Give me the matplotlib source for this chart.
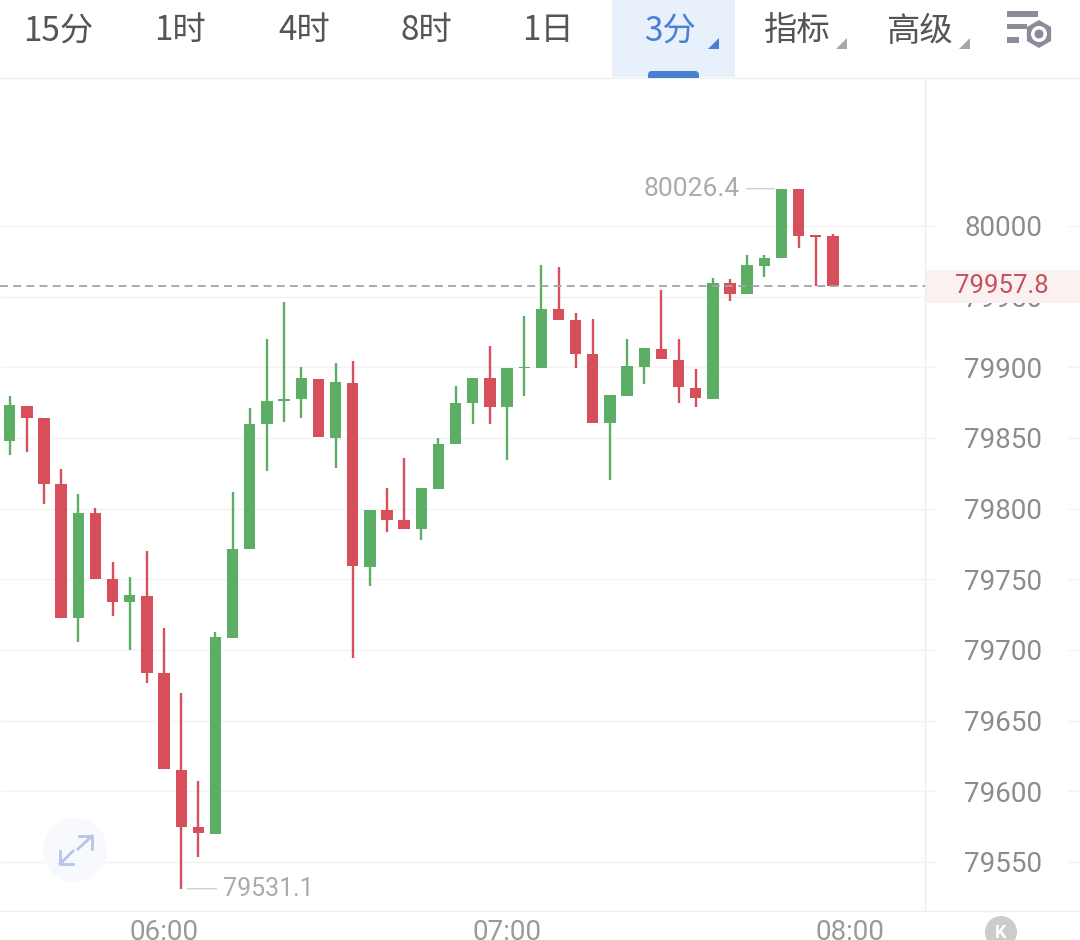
import matplotlib
matplotlib.use('Agg')
import matplotlib.pyplot as plt
from matplotlib.patches import Rectangle, Circle, RegularPolygon, Polygon, FancyBboxPatch

plt.rcParams['font.family'] = ['Roboto', 'Noto Sans CJK SC', 'DejaVu Sans']

# 3 minute candles, first one at 05:33
opens = [79848.1, 79872.9, 79864.2, 79817.3, 79722.4, 79796.9, 79750.0, 79734.0, 79738.2, 79683.5,
         79615.1, 79574.8, 79570.0, 79708.7, 79771.5, 79859.7, 79876.0, 79877.6, 79892.0, 79850.2,
         79889.1, 79758.7, 79798.8, 79791.8, 79785.4, 79813.9, 79845.8, 79874.6, 79892.5, 79871.9,
         79899.3, 79899.5, 79941.3, 79933.3, 79909.4, 79860.6, 79879.7, 79900.4, 79913.2, 79905.2,
         79885.6, 79877.6, 79959.5, 79951.7, 79971.9, 79977.1, 80026.2, 79993.6, 79992.7]
highs = [79879.7, 79872.9, 79864.2, 79827.9, 79810.2, 79800.5, 79762.3, 79751.7, 79769.8, 79715.4,
         79669.8, 79607.3, 79712.7, 79812.0, 79871.0, 79919.8, 79946.0, 79900.0, 79892.0, 79902.9,
         79904.5, 79799.1, 79814.4, 79835.8, 79814.4, 79849.8, 79886.8, 79892.7, 79915.3, 79899.7,
         79936.3, 79972.2, 79971.0, 79938.7, 79934.0, 79880.2, 79919.8, 79913.7, 79954.9, 79919.8,
         79898.8, 79963.4, 79962.3, 79979.7, 79979.5, 80026.4, 80026.2, 79993.6, 79994.3]
lows = [79838.2, 79840.3, 79803.3, 79722.6, 79705.4, 79750.0, 79724.1, 79700.0, 79676.4, 79615.6,
        79531.1, 79553.8, 79570.0, 79708.7, 79771.5, 79826.4, 79861.3, 79864.0, 79850.5, 79828.8,
        79694.6, 79745.3, 79783.7, 79785.6, 79778.0, 79813.9, 79845.8, 79859.7, 79859.9, 79834.6,
        79879.7, 79899.5, 79933.5, 79899.7, 79860.8, 79820.1, 79879.7, 79888.2, 79905.7, 79875.0,
        79871.9, 79877.6, 79947.1, 79951.7, 79964.1, 79977.1, 79984.6, 79957.5, 79957.8]
closes = [79873.1, 79864.2, 79817.5, 79722.6, 79797.1, 79750.0, 79734.2, 79738.7, 79684.0, 79615.6,
          79575.0, 79570.3, 79709.0, 79771.7, 79859.9, 79876.4, 79877.8, 79892.5, 79850.5, 79889.4,
          79759.4, 79799.1, 79792.0, 79785.6, 79814.4, 79845.8, 79874.8, 79892.7, 79872.1, 79899.3,
          79900.2, 79941.5, 79933.5, 79909.6, 79860.8, 79880.2, 79900.7, 79913.7, 79905.7, 79886.1,
          79878.1, 79959.9, 79951.9, 79972.6, 79977.6, 80026.4, 79993.1, 79992.4, 79957.8]

y_ticks = [79550, 79600, 79650, 79700, 79750, 79800, 79850, 79900, 79950, 80000]
time_pos = [9, 29, 49]
time_labels = ['06:00', '07:00', '08:00']
toolbar = ['15分', '1时', '4时', '8时', '1日', '3分', '指标', '高级']
last_price = 79957.8

GREEN = '#5BAE64'
RED = '#D64F5A'
GRID = '#F3F3F3'
W, H = 1080, 940
X0, STEP = 9.7, 17.15

fig = plt.figure(figsize=(W / 100, H / 100), dpi=100, facecolor='white')
ax = fig.add_axes([0, 29 / H, 1, (911 - 78) / H])
ax.set_xlim((0 - X0) / STEP, (W - X0) / STEP)
ax.set_ylim(79515.3, 80104.7)

idx = list(range(len(opens)))
colors = [GREEN if c >= o else RED for o, c in zip(opens, closes)]
ax.vlines(idx, lows, highs, colors=colors, lw=1.7, zorder=3)
ax.bar(idx, [abs(c - o) for o, c in zip(opens, closes)], bottom=[min(o, c) for o, c in zip(opens, closes)],
       width=0.66, color=colors, zorder=3, linewidth=0)

ax.yaxis.tick_right()
ax.set_yticks(y_ticks)
ax.set_yticklabels([str(v) for v in y_ticks])
ax.set_xticks(time_pos)
ax.set_xticklabels(time_labels)
ax.tick_params(axis='y', length=0, pad=-55.4, labelsize=20, labelcolor='#8C8C8C')
ax.tick_params(axis='x', length=0, pad=6, labelsize=20, labelcolor='#9A9A9A')
for lbl in ax.get_yticklabels():
    lbl.set_ha('center')

# grid stops around the price labels
trans = ax.get_yaxis_transform()
ax.hlines(y_ticks, 0, 936 / W, transform=trans, color=GRID, lw=1, zorder=1)
ax.hlines(y_ticks, 1068 / W, 1, transform=trans, color=GRID, lw=1, zorder=1)

for name in ['left', 'right']:
    ax.spines[name].set_visible(False)
for name in ['top', 'bottom']:
    ax.spines[name].set_color('#EEEEEE')
    ax.spines[name].set_linewidth(1)

ax.plot([925 / W, 925 / W], [0, 1], transform=ax.transAxes, color='#EEEEEE', lw=1, zorder=2)
ax.plot([0, 925 / W], [last_price, last_price], transform=trans, color='#A4A4A4', lw=1.3,
        linestyle=(0, (4.4, 2.9)), zorder=4)

# high and low markers
hi = highs.index(max(highs))
lo = lows.index(min(lows))
ax.annotate(f'{highs[hi]}', xy=(hi - 0.42, highs[hi]), xytext=(-25, 0), textcoords='offset points',
            ha='right', va='center', color='#ABABAB', fontsize=19,
            arrowprops=dict(arrowstyle='-', color='#CFCFCF', lw=1, shrinkA=3, shrinkB=0))
ax.annotate(f'{lows[lo]}', xy=(lo + 0.35, lows[lo]), xytext=(26, 0), textcoords='offset points',
            ha='left', va='center', color='#ABABAB', fontsize=18,
            arrowprops=dict(arrowstyle='-', color='#CFCFCF', lw=1, shrinkA=3, shrinkB=0))

# overlay in pixels for the app chrome
ov = fig.add_axes([0, 0, 1, 1], facecolor='none')
ov.set_xlim(0, W)
ov.set_ylim(H, 0)
ov.axis('off')

ov.add_patch(Rectangle((612, 0), 123, 77, facecolor='#E8F0FC', edgecolor='none'))
ov.add_patch(FancyBboxPatch((648, 71), 51, 10, boxstyle='round,pad=0,rounding_size=4', facecolor='#4A80D4',
                            edgecolor='none'))
ov.add_patch(Rectangle((612, 77.5), 123, 5, facecolor='white', edgecolor='none'))
ov.plot([0, W], [78, 78], color='#EEEEEE', lw=0.7)

tool_x = [58, 180, 304, 426, 548, 670, 797, 919]
for t, x in zip(toolbar, tool_x):
    ov.text(x, 31, t, ha='center', va='center', fontsize=24, color='#4A80D4' if t == '3分' else '#555555',
            family=['Noto Sans CJK SC', 'DejaVu Sans'])
for x, c in zip([708, 836, 959], ['#4A80D4', '#A8A8A8', '#A8A8A8']):
    ov.add_patch(Polygon([(x, 49), (x + 11, 49), (x + 11, 38)], facecolor=c, edgecolor='none'))

# settings icon
for x1, y1 in [(1038, 11), (1027, 23.5), (1019, 37)]:
    ov.add_patch(Rectangle((1007, y1), x1 - 1007, 5.5, facecolor='#8A8D99', edgecolor='none'))
ov.add_patch(RegularPolygon((1039, 34), 6, radius=14, facecolor='#8A8D99', edgecolor='none'))
ov.add_patch(Circle((1039, 34), 8, facecolor='white', edgecolor='none'))
ov.add_patch(Circle((1039, 34), 4.5, facecolor='#8A8D99', edgecolor='none'))

# last price tag, covers part of the 79950 label
ov.add_patch(Rectangle((926, 270), 154, 33, facecolor='#FBF1F0', edgecolor='none'))
ov.text(1002, 286, f'{last_price}', ha='center', va='center', fontsize=18.5, color='#C8505E')

# expand button
ov.add_patch(Circle((75, 850), 32, facecolor='#F7F9FD', edgecolor='none'))
ov.plot([79, 92, 92], [836, 836, 849], color='#B3C6EA', lw=2)
ov.plot([92, 78], [836, 849], color='#B3C6EA', lw=2)
ov.plot([60, 60, 73], [851, 864, 864], color='#B3C6EA', lw=2)
ov.plot([60, 73], [864, 851], color='#B3C6EA', lw=2)

# k button at the bottom
ov.add_patch(Circle((1001, 932), 16, facecolor='#CCCCCC', edgecolor='none'))
ov.text(1001, 933, 'K', ha='center', va='center', fontsize=13, color='white', fontweight='bold')

fig.savefig('out.png', dpi=100)
